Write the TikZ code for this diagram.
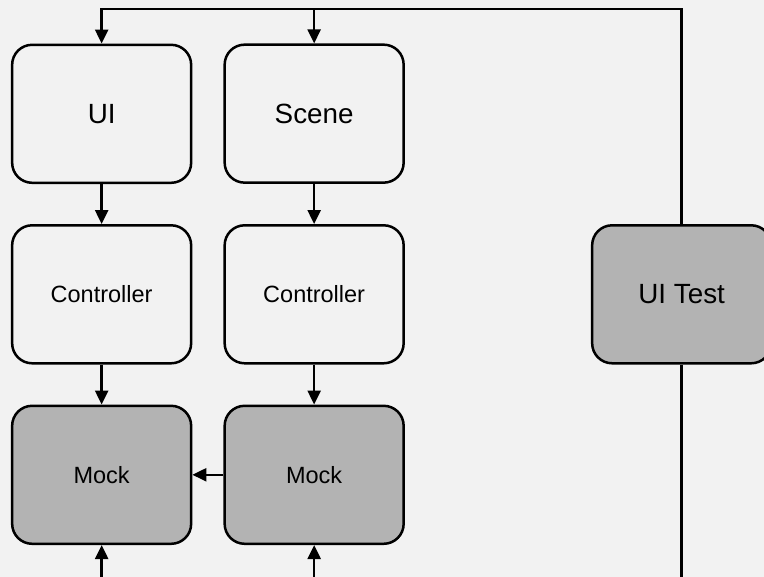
\documentclass[tikz,border=0pt]{standalone}
\usepackage{fontspec}
\setmainfont{Liberation Sans}
\usetikzlibrary{positioning,matrix,arrows.meta}
\definecolor{bgpanel}{HTML}{F2F2F2}
\definecolor{mockgray}{HTML}{B3B3B3}
\tikzset{
  unit/.style={draw, line width=1.25pt, rounded corners=10pt, fill=bgpanel,
    minimum width=89.5pt, minimum height=69pt, text depth=0pt,
    font=\fontsize{11.75}{14}\selectfont},
  big/.style={font=\fontsize{13.9}{16}\selectfont},
  mocked/.style={fill=mockgray},
  wire/.style={line width=1.25pt},
  flow/.style={wire, -{Triangle[length=7pt,width=6.5pt]}}
}

\begin{document}
\begin{tikzpicture}
    \fill[bgpanel] (0,0) rectangle (382pt,-288.5pt);
    \useasboundingbox (0,0) rectangle (382pt,-288.5pt);

    \matrix (m)[matrix of nodes, anchor=north west, inner sep=0pt, column sep=15.5pt, row sep=20pt, nodes={unit}] at (5.25pt,-21.5pt) {
    |[big]| UI & |[big]| Scene \\
    Controller & Controller \\
    |[mocked]| Mock & |[mocked]| Mock \\
    };
    \node[unit, big, mocked, right=93pt of m-2-2] (test) {UI Test};

    \coordinate (top) at (0,-4.5pt);
    \coordinate (bot) at (0,-295pt);

    % test drives both front ends from above
    \draw[wire] (test.north) -- (test.north |- top) -- (m-1-2.north |- top);
    \draw[flow] (m-1-2.north |- top) -- (m-1-1.north |- top) -- (m-1-1.north);
    \draw[flow] (m-1-2.north |- top) -- (m-1-2.north);

    \draw[flow] (m-1-1) -- (m-2-1);
    \draw[flow] (m-2-1) -- (m-3-1);
    \draw[flow] (m-1-2) -- (m-2-2);
    \draw[flow] (m-2-2) -- (m-3-2);
    \draw[flow] (m-3-2) -- (m-3-1);

    % and feeds the mocks from below
    \draw[wire] (test.south) -- (test.south |- bot);
    \draw[flow] (m-3-1.south |- bot) -- (m-3-1.south);
    \draw[flow] (m-3-2.south |- bot) -- (m-3-2.south);
\end{tikzpicture}
\end{document}
